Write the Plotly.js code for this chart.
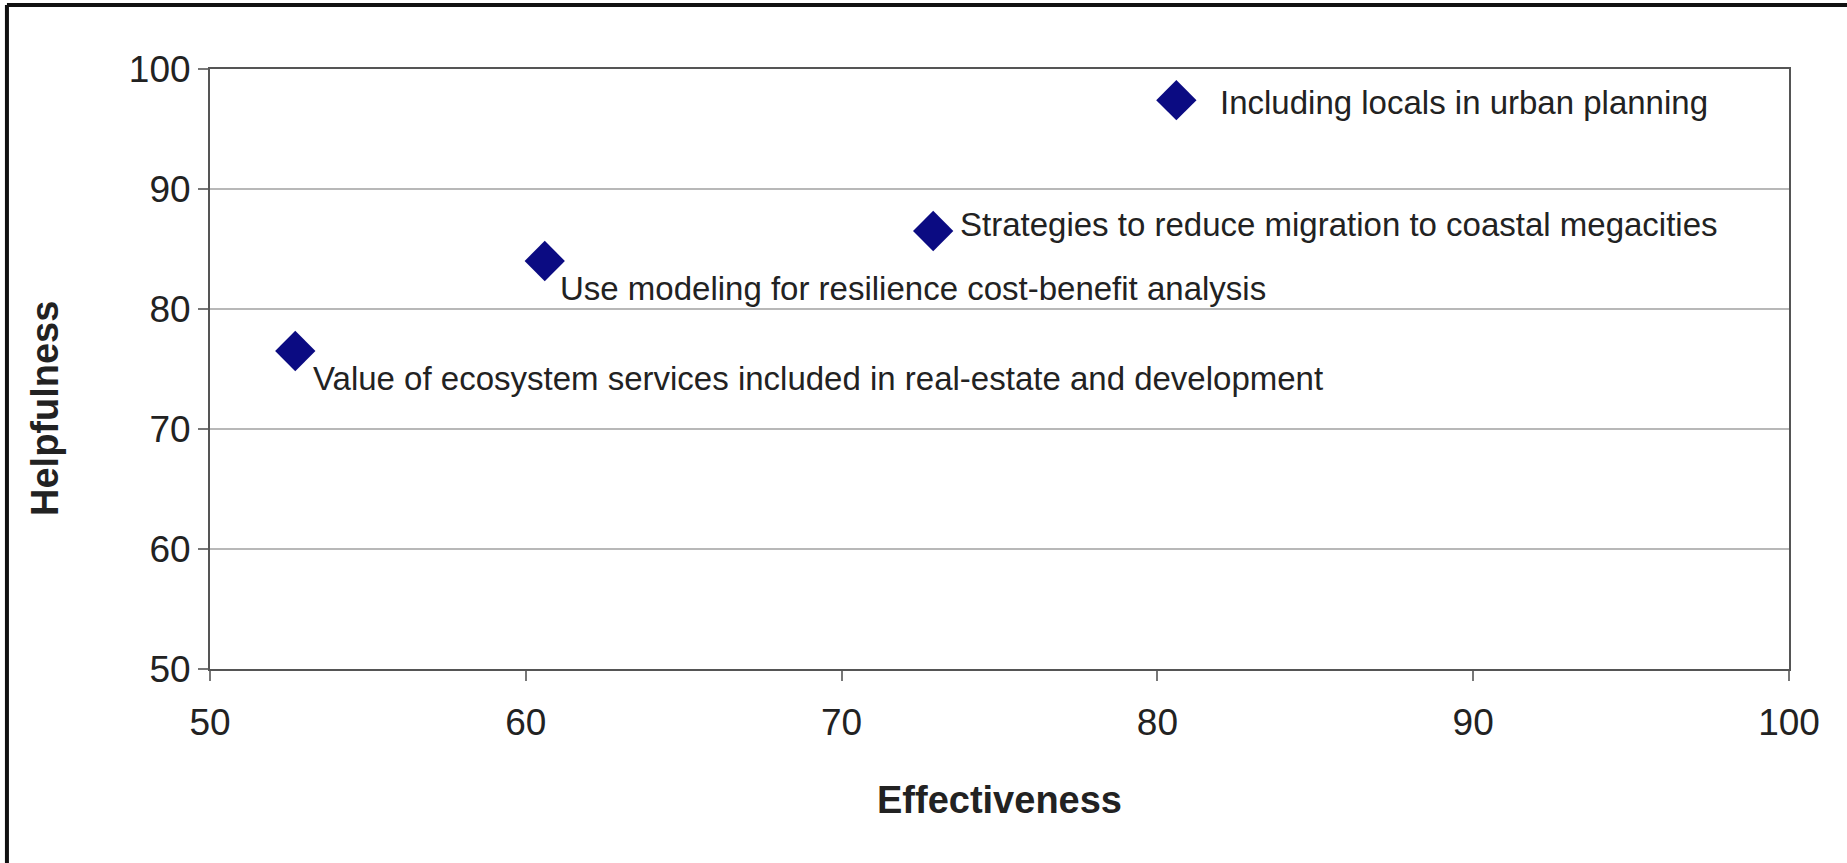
<!DOCTYPE html>
<html>
<head>
<meta charset="utf-8">
<script src="https://cdn.plot.ly/plotly-3.0.1.min.js"></script>
<style>
  html, body { margin: 0; padding: 0; background: #ffffff; }
  #chart { width: 1847px; height: 863px; }
</style>
</head>
<body>
<div id="chart"></div>
<script>
// ---- data ----
var labels = [
  "Including locals in urban planning",
  "Strategies to reduce migration to coastal megacities",
  "Use modeling for resilience cost-benefit analysis",
  "Value of ecosystem services included in real-estate and development"
];
var effectiveness = [80.6, 72.9, 60.6, 52.7];
var helpfulness = [97.4, 86.5, 84.0, 76.5];
var xTicks = [50, 60, 70, 80, 90, 100];
var yTicks = [50, 60, 70, 80, 90, 100];

// ---- label placement (style) ----
var labelShiftX = [42, 25, 13, 16];
var labelShiftY = [-2, 7, -27, -27];

var trace = {
  x: effectiveness,
  y: helpfulness,
  mode: "markers",
  type: "scatter",
  marker: { symbol: "diamond", size: 31, color: "#0b0b82", line: { width: 0 } },
  hoverinfo: "x+y",
  showlegend: false
};

var annotations = labels.map(function (t, i) {
  return {
    x: effectiveness[i], y: helpfulness[i], xref: "x", yref: "y",
    text: t, showarrow: false, xanchor: "left", yanchor: "middle",
    xshift: labelShiftX[i], yshift: labelShiftY[i],
    font: { family: "Liberation Sans, Arial, sans-serif", size: 33, color: "#222222" }
  };
});

// Helpfulness title (offset slightly below centre as in reference)
annotations.push({
  xref: "paper", yref: "paper", x: -0.1045, y: 0.435,
  text: "<b>Helpfulness</b>", showarrow: false, textangle: -90,
  xanchor: "center", yanchor: "middle",
  font: { family: "Liberation Sans, Arial, sans-serif", size: 38, color: "#222222" }
});

var frameColor = "#111111";
var layout = {
  width: 1847, height: 863,
  margin: { l: 210, r: 58, t: 69, b: 194, pad: 0 },
  paper_bgcolor: "#ffffff",
  plot_bgcolor: "#ffffff",
  xaxis: {
    range: [50, 100], tickvals: xTicks, ticktext: xTicks.map(String),
    showgrid: false, zeroline: false,
    showline: true, mirror: true, linecolor: "#555555", linewidth: 2,
    ticks: "outside", ticklen: 10, tickcolor: "#777777", tickwidth: 2,
    ticklabelstandoff: 10,
    tickfont: { family: "Liberation Sans, Arial, sans-serif", size: 37, color: "#222222" },
    title: { text: "<b>Effectiveness</b>", standoff: 44,
             font: { family: "Liberation Sans, Arial, sans-serif", size: 38, color: "#222222" } },
    fixedrange: true
  },
  yaxis: {
    range: [50, 100], tickvals: yTicks, ticktext: yTicks.map(String),
    showgrid: true, gridcolor: "#b8b8b8", gridwidth: 2, zeroline: false,
    showline: true, mirror: true, linecolor: "#555555", linewidth: 2,
    ticks: "outside", ticklen: 10, tickcolor: "#777777", tickwidth: 2,
    tickfont: { family: "Liberation Sans, Arial, sans-serif", size: 37, color: "#222222" },
    fixedrange: true
  },
  annotations: annotations,
  shapes: [
    { type: "line", xref: "paper", yref: "paper",
      x0: -0.1286, x1: 1.05, y0: 1.1067, y1: 1.1067,
      line: { color: frameColor, width: 4 } },
    { type: "line", xref: "paper", yref: "paper",
      x0: -0.1286, x1: -0.1286, y0: 1.1067, y1: -0.33,
      line: { color: frameColor, width: 4 } }
  ]
};

Plotly.newPlot("chart", [trace], layout, { displayModeBar: false, staticPlot: true });
</script>
</body>
</html>
